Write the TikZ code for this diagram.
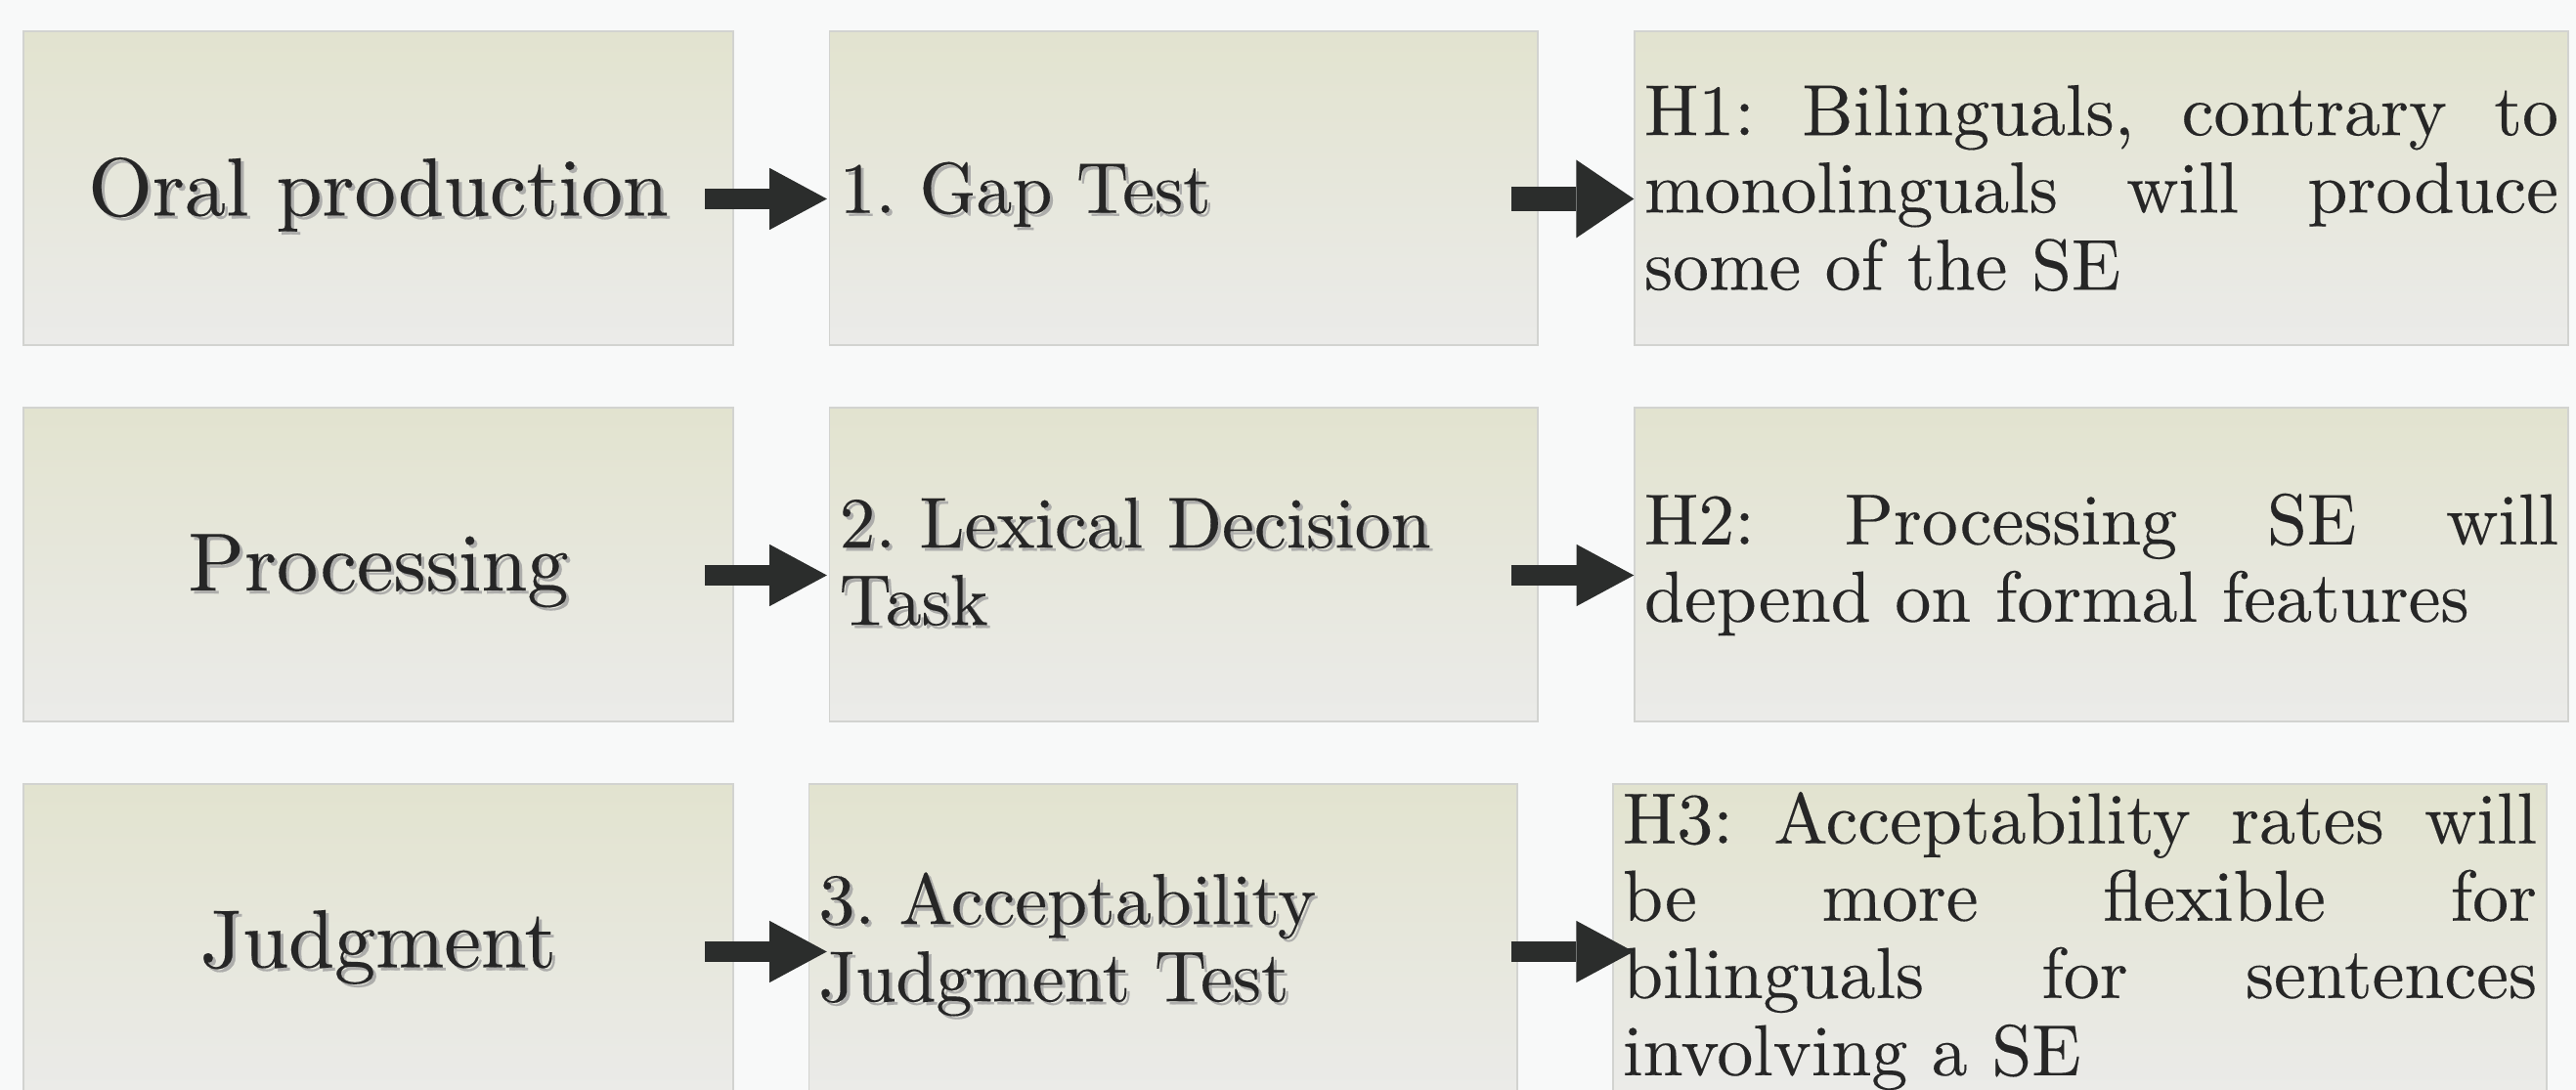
\documentclass[tikz,border=0pt]{standalone}
\usepackage{fontspec}
\setmainfont{lmroman10-regular.otf}[FakeBold=0.2]
\usepackage{tikz}
\usetikzlibrary{arrows.meta}
\definecolor{bgcol}{HTML}{F8F9F9}
\definecolor{boxtop}{HTML}{E2E3CF}
\definecolor{boxbot}{HTML}{EBEBE9}
\definecolor{boxline}{HTML}{D2D3D0}
\definecolor{arrowcol}{HTML}{2B2D2C}
\definecolor{txtcol}{HTML}{262626}
\definecolor{txtshadow}{HTML}{ADADAB}
\newcommand{\shd}[1]{\raisebox{-0.08cm}[\height][\depth]{%
  \makebox[0pt][l]{\hspace{0.9pt}\raisebox{-0.9pt}{\color{txtshadow}#1}}#1}}
\newcommand{\twolines}[2]{\begin{tabular}{@{}l@{}}#1\\#2\end{tabular}}
\frenchspacing

\begin{document}
\begin{tikzpicture}[
  box/.style={draw=boxline, line width=0.4pt, top color=boxtop, bottom color=boxbot,
              minimum height=3.21cm, inner ysep=0pt, text=txtcol},
  cause/.style={box, minimum width=7.26cm, font=\fontsize{24}{28}\selectfont},
  task/.style={box, inner xsep=0.1cm, text width=7.045cm, align=left,
               font=\fontsize{21}{22.5}\selectfont},
  hyp/.style={box, inner xsep=0.1cm, text width=9.35cm, align=justify,
              font=\fontsize{21}{22.5}\selectfont},
  thinarrow/.style={arrowcol, line width=0.21cm,
                    -{Triangle[width=0.633cm, length=0.587cm, line width=0pt]}},
  thickarrow/.style={arrowcol, line width=0.257cm,
                     -{Triangle[width=0.80cm, length=0.59cm, line width=0pt]}}
]
\def\xa{3.87}   %centre of first column
\def\xb{12.108} %centre of second column
\def\xc{21.495} %centre of third column
\def\ys{0.11}   %arrows sit a little below the box centre

% background and page size
\fill[bgcol] (0,0) rectangle (26.35,11.15);
\useasboundingbox (0,0) rectangle (26.35,11.15);

% first row
\node[cause] (oral) at (\xa,9.225) {\shd{Oral production}};
\node[task] (gap) at (\xb,9.225) {\shd{1. Gap Test}};
\node[hyp] (hyp1) at (\xc,9.225) {H1: Bilinguals, contrary to\linebreak
  monolinguals will produce\linebreak some of the SE};

% second row
\node[cause] (proc) at (\xa,5.375) {\shd{Processing}};
\node[task] (lex) at (\xb,5.375) {\shd{\twolines{2. Lexical Decision}{Task}}};
\node[hyp] (hyp2) at (\xc,5.375) {H2: Processing SE will\linebreak
  depend on formal features};

% third row, shifted a bit to the left
\node[cause] (judg) at (\xa,1.525) {\shd{Judgment}};
\node[task] (acc) at (11.897,1.525) {\shd{\twolines{3. Acceptability}{Judgment Test}}};
\node[hyp] (hyp3) at (21.275,1.525) {H3: Acceptability rates will\linebreak
  be more flexible for\linebreak bilinguals for sentences\linebreak involving a SE};

% arrows
\draw[thinarrow, shorten <=-0.293cm, shorten >=0.02cm]
  ([yshift=-\ys cm]oral.east) -- ([yshift=-\ys cm]gap.west);
\draw[thickarrow, shorten <=-0.28cm]
  ([yshift=-\ys cm]gap.east) -- ([yshift=-\ys cm]hyp1.west);
\draw[thinarrow, shorten <=-0.293cm, shorten >=0.02cm]
  ([yshift=-\ys cm]proc.east) -- ([yshift=-\ys cm]lex.west);
\draw[thinarrow, shorten <=-0.28cm]
  ([yshift=-\ys cm]lex.east) -- ([yshift=-\ys cm]hyp2.west);
\draw[thinarrow, shorten <=-0.293cm, shorten >=-0.19cm]
  ([yshift=-\ys cm]judg.east) -- ([yshift=-\ys cm]acc.west);
\draw[thinarrow, shorten <=-0.07cm, shorten >=-0.217cm]
  ([yshift=-\ys cm]acc.east) -- ([yshift=-\ys cm]hyp3.west);
\end{tikzpicture}
\end{document}
